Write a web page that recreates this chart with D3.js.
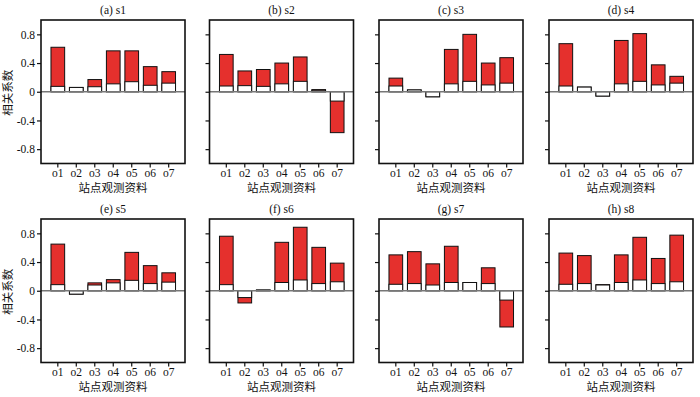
<!DOCTYPE html>
<html><head><meta charset="utf-8">
<script src="https://cdn.jsdelivr.net/npm/d3@7"></script>
<style>body{margin:0;background:#fff}svg{display:block}</style>
</head><body>
<script>
const categories = ["o1","o2","o3","o4","o5","o6","o7"];
const panelTitles = ["(a) s1","(b) s2","(c) s3","(d) s4","(e) s5","(f) s6","(g) s7","(h) s8"];
const yTicks = [0.8, 0.4, 0, -0.4, -0.8];
const yTickLabels = ["0.8","0.4","0","-0.4","-0.8"];
// red (full) bar values
const redValues = [
  [0.62, 0.06, 0.17, 0.57, 0.57, 0.35, 0.28],
  [0.52, 0.29, 0.31, 0.40, 0.485, 0.03, -0.57],
  [0.19, 0.025, -0.07, 0.59, 0.80, 0.40, 0.475],
  [0.67, 0.065, -0.06, 0.715, 0.81, 0.375, 0.215],
  [0.65, -0.047, 0.11, 0.155, 0.535, 0.35, 0.25],
  [0.76, -0.17, 0.01, 0.675, 0.885, 0.605, 0.385],
  [0.50, 0.545, 0.375, 0.62, 0.115, 0.32, -0.505],
  [0.525, 0.49, 0.085, 0.50, 0.745, 0.45, 0.775]
];
// white (inner) bar values
const whiteValues = [
  [0.075, 0.06, 0.07, 0.11, 0.14, 0.09, 0.12],
  [0.08, 0.085, 0.075, 0.11, 0.145, 0.02, -0.13],
  [0.08, 0.025, -0.07, 0.11, 0.145, 0.095, 0.12],
  [0.08, 0.065, -0.06, 0.11, 0.145, 0.095, 0.12],
  [0.085, -0.047, 0.08, 0.11, 0.145, 0.10, 0.12],
  [0.085, -0.095, 0.01, 0.115, 0.15, 0.10, 0.125],
  [0.09, 0.10, 0.08, 0.115, 0.115, 0.10, -0.13],
  [0.09, 0.10, 0.08, 0.115, 0.15, 0.10, 0.125]
];
const yLabel = "相关系数";
const xLabel = "站点观测资料";

const W = 700, H = 397;
const svg = d3.select("body").append("svg").attr("width", W).attr("height", H);
const lefts = [41, 209.5, 379, 549];
const pw = 144;
const tops = [20, 219];
const ph = 143.5;
const serif = "'Liberation Serif','DejaVu Serif',serif";
const cjk = "'Noto Sans CJK SC','Noto Sans CJK JP',sans-serif";

panelTitles.forEach((title, i) => {
  const row = Math.floor(i / 4), col = i % 4;
  const x0 = lefts[col], y0 = tops[row];
  const g = svg.append("g");
  const x = d3.scaleBand().domain(categories).range([x0 + 8.5, x0 + pw - 8]).paddingInner(0.26).paddingOuter(0.08);
  const y = d3.scaleLinear().domain([-1, 1]).range([y0 + ph, y0]);

  // red bars
  g.selectAll(".red").data(redValues[i]).enter().append("rect")
    .attr("x", (d, j) => x(categories[j]))
    .attr("width", x.bandwidth())
    .attr("y", d => Math.min(y(d), y(0)))
    .attr("height", d => Math.abs(y(d) - y(0)))
    .attr("fill", "#e5302d").attr("stroke", "#111").attr("stroke-width", 1);
  // white bars
  g.selectAll(".white").data(whiteValues[i]).enter().append("rect")
    .attr("x", (d, j) => x(categories[j]))
    .attr("width", x.bandwidth())
    .attr("y", d => Math.min(y(d), y(0)))
    .attr("height", d => Math.abs(y(d) - y(0)))
    .attr("fill", "#fff").attr("stroke", "#111").attr("stroke-width", 1);

  // zero line
  g.append("line").attr("x1", x0).attr("x2", x0 + pw).attr("y1", y(0)).attr("y2", y(0))
    .attr("stroke", "#777").attr("stroke-width", 1.5);

  // frame
  g.append("rect").attr("x", x0).attr("y", y0).attr("width", pw).attr("height", ph)
    .attr("fill", "none").attr("stroke", "#111").attr("stroke-width", 1.6);

  // y axis
  const yAxis = d3.axisLeft(y).tickValues(yTicks).tickSize(4).tickPadding(2)
    .tickFormat((d, k) => col === 0 ? yTickLabels[k] : "");
  const ya = g.append("g").attr("transform", `translate(${x0},0)`).call(yAxis);
  ya.select(".domain").remove();
  ya.selectAll(".tick line").attr("stroke", "#111").attr("stroke-width", 1.2);
  ya.selectAll(".tick text").attr("font-family", serif).attr("font-size", 11.5).attr("fill", "#111");

  // x axis
  const xAxis = d3.axisBottom(x).tickSize(4).tickPadding(1.5);
  const xa = g.append("g").attr("transform", `translate(0,${y0 + ph})`).call(xAxis);
  xa.select(".domain").remove();
  xa.selectAll(".tick line").attr("stroke", "#111").attr("stroke-width", 1.2);
  xa.selectAll(".tick text").attr("font-family", serif).attr("font-size", 11.5).attr("fill", "#111");

  // title
  g.append("text").attr("x", x0 + pw / 2).attr("y", y0 - 6).attr("text-anchor", "middle")
    .attr("font-family", serif).attr("font-size", 11.5).attr("fill", "#111").text(title);

  // x label
  g.append("text").attr("x", x0 + pw / 2).attr("y", y0 + ph + 28.5).attr("text-anchor", "middle")
    .attr("font-family", cjk).attr("font-size", 11.5).attr("fill", "#111").text(xLabel);

  if (col === 0) {
    g.append("text").attr("transform", `translate(${x0 - 29},${y0 + ph / 2 + 1}) rotate(-90)`)
      .attr("text-anchor", "middle").attr("font-family", cjk).attr("font-size", 11.5)
      .attr("fill", "#111").text(yLabel);
  }
});
</script>
</body></html>
